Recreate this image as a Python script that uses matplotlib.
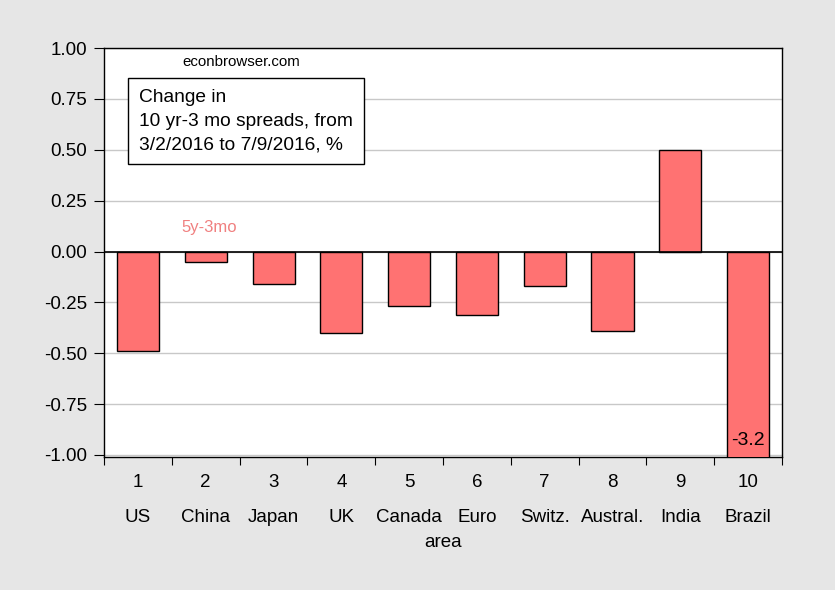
import numpy as np
import matplotlib.pyplot as plt

plt.rcParams['font.family'] = ['Liberation Sans', 'DejaVu Sans']

areas = ['US', 'China', 'Japan', 'UK', 'Canada', 'Euro', 'Switz.', 'Austral.', 'India', 'Brazil']
changes = [-0.49, -0.05, -0.16, -0.40, -0.27, -0.31, -0.17, -0.39, 0.50, -3.2]

x = np.arange(1, len(areas) + 1)

fig = plt.figure(figsize=(8.35, 5.9), dpi=100, facecolor='#e6e6e6')
ax = fig.add_axes([0.1246, 0.2254, 0.8119, 0.6932])
ax.set_facecolor('white')

ax.bar(x, changes, width=0.62, color='#ff7272', edgecolor='black', linewidth=1.0, zorder=3)
ax.axhline(0, color='black', linewidth=1.2, zorder=4)

ax.set_xlim(0.5, 10.5)
ax.set_ylim(-1.01, 1.0)
yt = np.arange(-1.0, 1.01, 0.25)
ax.set_yticks(yt)
ax.set_yticklabels([f'{v:.2f}' for v in yt], fontsize=13.5)
ax.yaxis.grid(True, color='#c8c8c8', linewidth=1.0, zorder=0)

ax.set_xticks(np.arange(0.5, 11, 1))
ax.set_xticklabels([])
ax.set_xticks(x, minor=True)
ax.set_xticklabels([f'{i}\n{a}' for i, a in zip(x, areas)], minor=True,
                   fontsize=13.5, linespacing=2.38)
ax.tick_params(axis='x', which='minor', length=0, pad=12)
ax.tick_params(axis='x', which='major', length=6, direction='out')
ax.tick_params(axis='y', length=7, direction='out', pad=5)
ax.set_xlabel('area', fontsize=13.5, labelpad=6)

for s in ax.spines.values():
    s.set_linewidth(1.0)

ax.text(0.115, 0.965, 'econbrowser.com', transform=ax.transAxes, fontsize=10.8, va='center')
ax.text(0.052, 0.8215, 'Change in\n10 yr-3 mo spreads, from\n3/2/2016 to 7/9/2016, %',
        transform=ax.transAxes, fontsize=13.8, va='center', linespacing=1.5,
        bbox=dict(boxstyle='square,pad=0.58', facecolor='white', edgecolor='black', linewidth=1.0))
ax.text(2.05, 0.118, '5y-3mo', color='#f08080', fontsize=12, ha='center', va='center')
ax.text(10, -0.93, '-3.2', fontsize=14, ha='center', va='center', zorder=5)

fig.savefig('out.png', dpi=100, facecolor=fig.get_facecolor())
